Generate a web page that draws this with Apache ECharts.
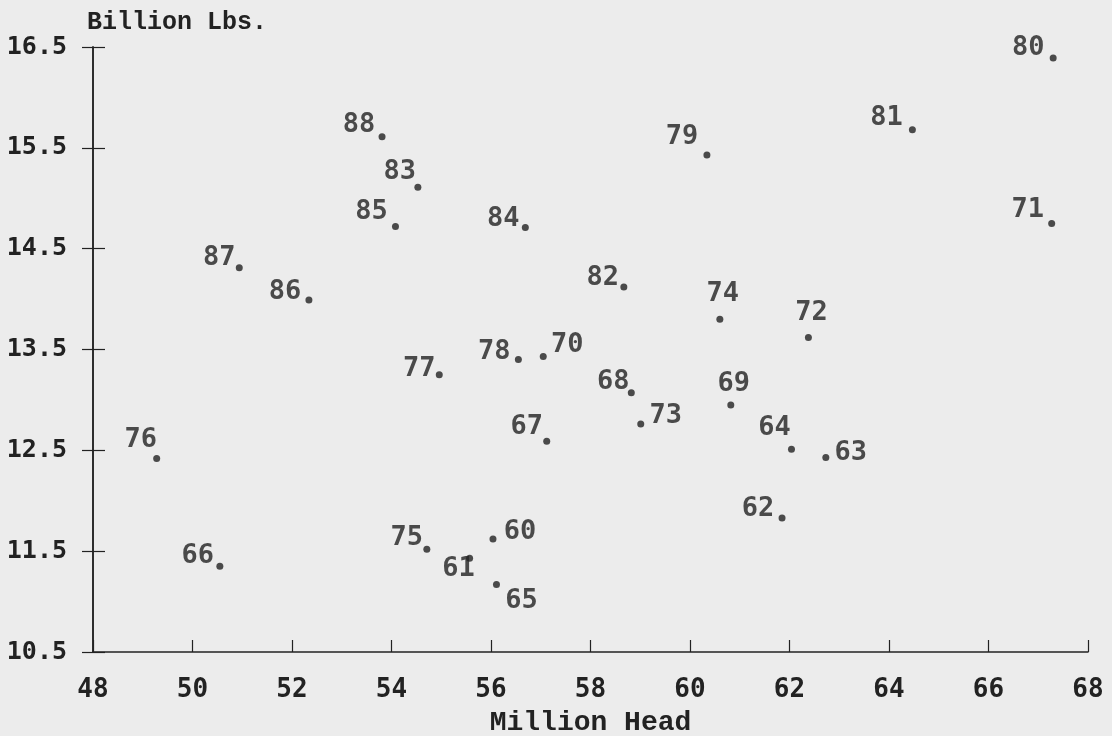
<!DOCTYPE html>
<html>
<head>
<meta charset="utf-8">
<script src="https://cdn.jsdelivr.net/npm/echarts@6/dist/echarts.min.js"></script>
<style>
  html, body { margin: 0; padding: 0; background: #ececec; }
  #main { width: 1112px; height: 736px; }
</style>
</head>
<body>
<div id="main"></div>
<script>
// year labels, 1960 .. 1988
const years = ['60', '61', '62', '63', '64', '65', '66', '67', '68', '69',
  '70', '71', '72', '73', '74', '75', '76', '77', '78', '79',
  '80', '81', '82', '83', '84', '85', '86', '87', '88'];
// million head (x)
const head = [56.04, 55.57, 61.85, 62.73, 62.04, 56.11, 50.55, 57.12, 58.82, 60.82,
  57.05, 67.27, 62.38, 59.01, 60.60, 54.71, 49.28, 54.96, 56.55, 60.34,
  67.30, 64.47, 58.67, 54.53, 56.69, 54.08, 52.34, 50.94, 53.81];
// billion lbs (y)
const lbs = [11.62, 11.43, 11.83, 12.43, 12.51, 11.17, 11.35, 12.59, 13.07, 12.95,
  13.43, 14.75, 13.62, 12.76, 13.80, 11.52, 12.42, 13.25, 13.40, 15.43,
  16.39, 15.68, 14.12, 15.11, 14.71, 14.72, 13.99, 14.31, 15.61];

const yTicks = [10.5, 11.5, 12.5, 13.5, 14.5, 15.5, 16.5];

// where each year label sits relative to its dot (px)
const labelOffset = {
  '60': [27, -7], '61': [-11, 11], '62': [-24, -9], '63': [25, -4], '64': [-17, -21],
  '65': [25, 17], '66': [-22, -10], '67': [-20, -14], '68': [-18, -11], '69': [3, -21],
  '70': [24, -12], '71': [-24, -13], '72': [3, -24], '73': [25, -8], '74': [3, -25],
  '75': [-20, -11], '76': [-16, -18], '77': [-20, -6], '78': [-24, -8], '79': [-25, -18],
  '80': [-25, -10], '81': [-26, -12], '82': [-21, -9], '83': [-18, -15], '84': [-22, -9],
  '85': [-24, -14], '86': [-24, -8], '87': [-20, -10], '88': [-23, -12]
};

const ink = '#222222';
const numFont = 'DejaVu Sans Mono';

const points = years.map((y, i) => ({
  name: y,
  value: [head[i], lbs[i]],
  label: { offset: labelOffset[y] }
}));

const chart = echarts.init(document.getElementById('main'));
chart.setOption({
  backgroundColor: '#ececec',
  animation: false,
  grid: { left: 93, right: 24, top: 47, bottom: 84, containLabel: false, outerBoundsMode: 'none' },
  xAxis: {
    type: 'value',
    min: 48,
    max: 68,
    interval: 2,
    name: 'Million Head',
    nameLocation: 'middle',
    nameGap: 57,
    nameTextStyle: { fontFamily: 'Liberation Mono', fontWeight: 'bold', fontSize: 28, color: ink },
    axisLine: { lineStyle: { color: ink, width: 1.5 } },
    axisTick: { inside: true, length: 12, lineStyle: { color: ink, width: 1.2 } },
    axisLabel: { margin: 25, fontFamily: numFont, fontWeight: 'bold', fontSize: 26, color: ink },
    splitLine: { show: false }
  },
  yAxis: [
    {
      type: 'value',
      position: 'left',
      min: 10.5,
      max: 16.5,
      name: 'Billion Lbs.',
      nameLocation: 'end',
      nameGap: 12,
      nameTextStyle: { fontFamily: 'Liberation Mono', fontWeight: 'bold', fontSize: 25, color: ink, align: 'left', padding: [0, 0, 0, -6] },
      axisLine: { show: true, lineStyle: { color: ink, width: 1.5 } },
      axisTick: { show: true, inside: false, length: 11, customValues: yTicks, lineStyle: { color: ink, width: 1.2 } },
      axisLabel: {
        margin: 26,
        customValues: yTicks,
        formatter: v => v.toFixed(1),
        fontFamily: numFont, fontWeight: 'bold', fontSize: 25, color: ink
      },
      splitLine: { show: false }
    },
    {
      type: 'value',
      position: 'left',
      min: 10.5,
      max: 16.5,
      axisLine: { show: true, lineStyle: { color: ink, width: 1.5 } },
      axisTick: { show: true, inside: true, length: 12, customValues: yTicks, lineStyle: { color: ink, width: 1.2 } },
      axisLabel: { show: false },
      splitLine: { show: false }
    }
  ],
  series: [
    {
      type: 'scatter',
      yAxisIndex: 0,
      symbol: 'circle',
      symbolSize: 7,
      itemStyle: { color: ink },
      label: {
        show: true,
        position: 'inside',
        formatter: p => p.name,
        fontFamily: numFont,
        fontWeight: 'bold',
        fontSize: 27,
        color: ink
      },
      data: points
    }
  ]
});
</script>
</body>
</html>
